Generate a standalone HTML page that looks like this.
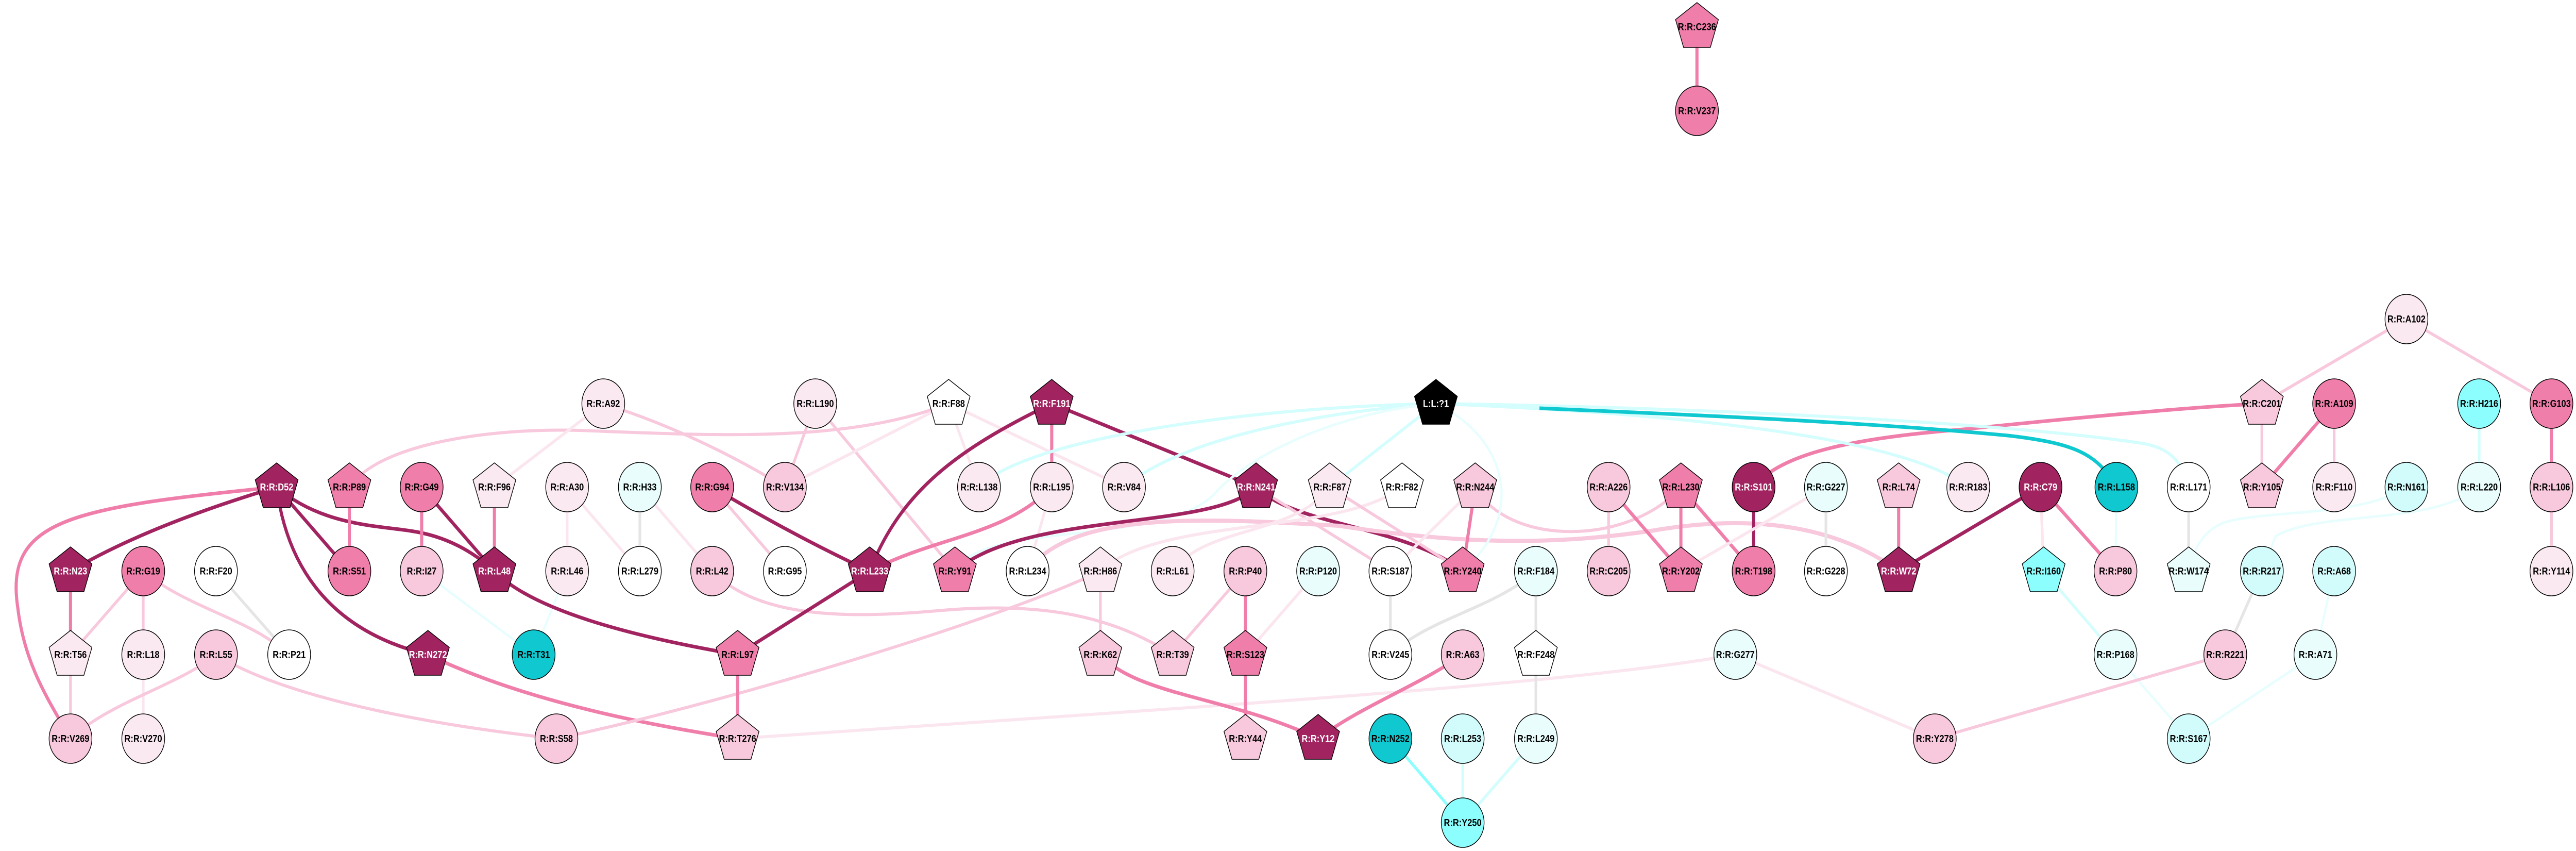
<!DOCTYPE html>
<html><head><meta charset="utf-8"><style>
html,body{margin:0;padding:0;background:#fff;overflow:hidden;width:100%;height:100%}
svg{display:block;width:100vw;height:100vh}
text{font-family:"Liberation Sans",Arial,sans-serif;font-weight:bold;font-size:19px;text-anchor:middle;dominant-baseline:central;fill:#000}
.w text{fill:#fff}
circle,polygon{stroke:#000;stroke-width:1.5}
path{fill:none;stroke-linecap:butt}
.d{stroke:#a12461;stroke-width:7}
.m{stroke:#f07eaa;stroke-width:7}
.l{stroke:#f8c8dc;stroke-width:6}
.v{stroke:#fbe6ef;stroke-width:6}
.g{stroke:#e5e5e5;stroke-width:6}
.c{stroke:#d4fdfd;stroke-width:6}
.e{stroke:#e8fefe;stroke-width:5}
.t{stroke:#10c8d0;stroke-width:7}
.k{stroke:#8cfefe;stroke-width:6}
</style></head><body>
<svg viewBox="0 0 5773 1651" preserveAspectRatio="none" xmlns="http://www.w3.org/2000/svg">
<defs><polygon id="p" points="0,-47 48,-14 30,40 -30,40 -48,-14"/></defs>
<path class="m" d="M620,945 C150,985 10,1010 40,1180 C55,1290 110,1360 158,1433"/>
<path class="d" d="M620,945 Q330,1020 158,1108"/>
<path class="d" d="M620,945 L783,1108"/>
<path class="d" d="M620,945 C720,1020 850,1020 920,1030 C1000,1040 1060,1070 1108,1108"/>
<path class="d" d="M620,945 C640,1080 720,1220 959,1270"/>
<path class="m" d="M783,945 L783,1108"/>
<path class="l" d="M783,945 C850,860 1100,830 1300,835 C1600,845 1900,860 2126,783"/>
<path class="v" d="M1352,783 L1108,945"/>
<path class="l" d="M1352,783 Q1560,840 1759,945"/>
<path class="m" d="M945,945 L945,1108"/>
<path class="d" d="M945,945 L1108,1108"/>
<path class="m" d="M1108,945 L1108,1108"/>
<path class="v" d="M1271,945 L1271,1108"/>
<path class="v" d="M1271,945 L1434,1108"/>
<path class="g" d="M1434,945 L1434,1108"/>
<path class="v" d="M1434,945 L1596,1108"/>
<path class="l" d="M321,1108 L158,1270"/>
<path class="l" d="M321,1108 L321,1270"/>
<path class="l" d="M321,1108 C420,1180 560,1200 648,1270"/>
<path class="g" d="M484,1108 L648,1270"/>
<path class="m" d="M158,1108 L158,1270"/>
<path class="l" d="M158,1270 L158,1433"/>
<path class="v" d="M321,1270 L321,1433"/>
<path class="l" d="M484,1270 C400,1330 250,1360 158,1433"/>
<path class="l" d="M484,1270 C650,1360 1000,1410 1247,1433"/>
<path class="e" d="M945,1108 L1196,1270"/>
<path class="e" d="M1271,1108 L1196,1270"/>
<path class="d" d="M1108,1108 C1200,1190 1450,1240 1653,1270"/>
<path class="m" d="M959,1270 C1150,1350 1400,1400 1653,1433"/>
<path class="l" d="M1247,1433 C1600,1370 2250,1200 2466,1108"/>
<path class="l" d="M1596,1108 C1700,1200 1900,1200 2100,1185 C2350,1165 2500,1200 2628,1270"/>
<path class="d" d="M1596,945 Q1780,1040 1949,1108"/>
<path class="l" d="M1596,945 L1759,1108"/>
<path class="l" d="M1827,783 L1759,945"/>
<path class="l" d="M1827,783 L2140,1108"/>
<path class="v" d="M2126,783 L1759,945"/>
<path class="v" d="M2126,783 L2194,945"/>
<path class="v" d="M2126,783 L2519,945"/>
<path class="d" d="M2357,783 C2150,870 2020,950 1949,1108"/>
<path class="m" d="M2357,783 L2357,945"/>
<path class="d" d="M2357,783 L2815,945"/>
<path class="m" d="M2357,945 C2250,1040 2100,1040 1949,1108"/>
<path class="v" d="M2357,945 L2303,1108"/>
<path class="c" d="M2194,945 C2300,850 2800,790 3218,783"/>
<path class="c" d="M2519,945 C2650,850 2950,800 3218,783"/>
<path class="e" d="M2140,1108 C2200,1010 2600,1060 2720,960 C2800,880 3000,800 3218,783"/>
<path class="c" d="M2980,945 L3218,783"/>
<path class="d" d="M2815,945 C2720,1030 2300,990 2140,1108"/>
<path class="d" d="M2815,945 C2900,1020 3150,1020 3278,1108"/>
<path class="l" d="M2815,945 L3116,1108"/>
<path class="l" style="stroke-width:8" d="M2303,1108 C2400,990 2700,1005 3000,1020 C3300,1060 3500,1055 3700,1030 C3900,1000 4100,1010 4255,1108"/>
<path class="v" d="M2466,1108 C2600,1000 3000,1040 3142,945"/>
<path class="v" d="M2628,1108 C2700,1020 2900,1040 2980,945"/>
<path class="l" d="M2980,945 L3278,1108"/>
<path class="l" d="M3306,945 C3380,1060 3650,1060 3767,945"/>
<path class="m" d="M3306,945 L3278,1108"/>
<path class="v" d="M3306,945 L3116,1108"/>
<path class="e" d="M3218,783 C3380,850 3420,1000 3278,1108"/>
<path class="l" d="M3605,945 L3605,1108"/>
<path class="m" d="M3605,945 L3767,1108"/>
<path class="m" d="M3767,945 L3767,1108"/>
<path class="m" d="M3767,945 L3930,1108"/>
<path class="d" d="M3930,945 L3930,1108"/>
<path class="g" d="M4092,945 L4092,1108"/>
<path class="v" d="M4092,945 L3767,1108"/>
<path class="m" d="M4255,945 L4255,1108"/>
<path class="m" d="M3930,945 C3990,880 4150,850 4400,833 C4600,815 4900,790 5069,783"/>
<path class="c" d="M3218,783 C3700,800 4250,840 4411,945"/>
<path class="c" d="M3218,783 C3800,790 4500,820 4800,860 C4870,870 4890,900 4905,945"/>
<path class="t" d="M3450,792 C3800,805 4200,820 4500,845 C4650,860 4700,880 4743,945"/>
<path class="d" d="M4573,945 L4255,1108"/>
<path class="v" d="M4573,945 L4580,1108"/>
<path class="m" d="M4573,945 L4741,1108"/>
<path class="e" d="M4743,945 L4741,1108"/>
<path class="g" d="M4905,945 L4905,1108"/>
<path class="e" d="M5393,945 C5300,1000 5100,990 5000,1010 C4950,1020 4920,1050 4905,1108"/>
<path class="e" d="M5556,945 C5450,1020 5200,990 5100,1040 L5069,1108"/>
<path class="g" d="M5069,1108 L4987,1270"/>
<path class="e" d="M5231,1108 L5189,1270"/>
<path class="c" d="M4580,1108 L4741,1270"/>
<path class="e" d="M4741,1270 L4905,1433"/>
<path class="e" d="M5189,1270 L4905,1433"/>
<path class="l" d="M4987,1270 L4336,1433"/>
<path class="v" d="M3889,1270 L4336,1433"/>
<path class="v" d="M3889,1270 C3500,1330 2700,1370 1653,1433"/>
<path class="m" d="M2466,1270 C2550,1350 2750,1350 2954,1433"/>
<path class="m" d="M3278,1270 C3180,1330 3050,1370 2954,1433"/>
<path class="m" d="M2791,1108 L2791,1270"/>
<path class="l" d="M2791,1108 L2628,1270"/>
<path class="m" d="M2791,1270 L2791,1433"/>
<path class="v" d="M2954,1108 L2791,1270"/>
<path class="l" d="M2466,1108 L2466,1270"/>
<path class="g" d="M3116,1108 L3116,1270"/>
<path class="g" d="M3442,1108 C3350,1180 3200,1200 3116,1270"/>
<path class="g" d="M3442,1108 L3442,1270"/>
<path class="g" d="M3442,1270 L3442,1433"/>
<path class="k" d="M3116,1433 L3278,1596"/>
<path class="c" d="M3278,1433 L3278,1596"/>
<path class="c" d="M3442,1433 L3278,1596"/>
<path class="m" d="M3803,52 L3803,215"/>
<path class="d" d="M1949,1108 L1653,1270"/>
<path class="m" d="M1653,1270 L1653,1433"/>
<path class="l" d="M5393,619 L5069,783"/>
<path class="l" d="M5393,619 L5718,783"/>
<path class="l" d="M5069,783 L5069,945"/>
<path class="m" d="M5231,783 L5069,945"/>
<path class="l" d="M5231,783 L5231,945"/>
<path class="c" d="M5556,783 L5556,945"/>
<path class="m" d="M5718,783 L5718,945"/>
<path class="l" d="M5718,945 L5718,1108"/>
<g><g transform="translate(3803,52)" fill="#f07eaa"><use href="#p"/><text>R:R:C236</text></g>
<g transform="translate(3803,215)"><circle r="48" fill="#f07eaa"/><text>R:R:V237</text></g>
<g transform="translate(5393,619)"><circle r="48" fill="#fbe9f1"/><text>R:R:A102</text></g>
<g transform="translate(1352,783)"><circle r="48" fill="#fbe9f1"/><text>R:R:A92</text></g>
<g transform="translate(1827,783)"><circle r="48" fill="#fbe9f1"/><text>R:R:L190</text></g>
<g transform="translate(2126,783)" fill="#fff"><use href="#p"/><text>R:R:F88</text></g>
<g class="w" transform="translate(2357,783)" fill="#a12461"><use href="#p"/><text>R:R:F191</text></g>
<g class="w" transform="translate(3218,783)" fill="#000"><use href="#p"/><text>L:L:?1</text></g>
<g transform="translate(5069,783)" fill="#f8c8dc"><use href="#p"/><text>R:R:C201</text></g>
<g transform="translate(5231,783)"><circle r="48" fill="#f07eaa"/><text>R:R:A109</text></g>
<g transform="translate(5556,783)"><circle r="48" fill="#8cfefe"/><text>R:R:H216</text></g>
<g transform="translate(5718,783)"><circle r="48" fill="#f07eaa"/><text>R:R:G103</text></g>
<g class="w" transform="translate(620,945)" fill="#a12461"><use href="#p"/><text>R:R:D52</text></g>
<g transform="translate(783,945)" fill="#f07eaa"><use href="#p"/><text>R:R:P89</text></g>
<g transform="translate(945,945)"><circle r="48" fill="#f07eaa"/><text>R:R:G49</text></g>
<g transform="translate(1108,945)" fill="#fbe9f1"><use href="#p"/><text>R:R:F96</text></g>
<g transform="translate(1271,945)"><circle r="48" fill="#fbe9f1"/><text>R:R:A30</text></g>
<g transform="translate(1434,945)"><circle r="48" fill="#e8fdfc"/><text>R:R:H33</text></g>
<g transform="translate(1596,945)"><circle r="48" fill="#f07eaa"/><text>R:R:G94</text></g>
<g transform="translate(1759,945)"><circle r="48" fill="#f8c8dc"/><text>R:R:V134</text></g>
<g transform="translate(2194,945)"><circle r="48" fill="#fbe9f1"/><text>R:R:L138</text></g>
<g transform="translate(2357,945)"><circle r="48" fill="#fbe9f1"/><text>R:R:L195</text></g>
<g transform="translate(2519,945)"><circle r="48" fill="#fbe9f1"/><text>R:R:V84</text></g>
<g class="w" transform="translate(2815,945)" fill="#a12461"><use href="#p"/><text>R:R:N241</text></g>
<g transform="translate(2980,945)" fill="#fbe9f1"><use href="#p"/><text>R:R:F87</text></g>
<g transform="translate(3142,945)" fill="#fff"><use href="#p"/><text>R:R:F82</text></g>
<g transform="translate(3306,945)" fill="#f8c8dc"><use href="#p"/><text>R:R:N244</text></g>
<g transform="translate(3605,945)"><circle r="48" fill="#f8c8dc"/><text>R:R:A226</text></g>
<g transform="translate(3767,945)" fill="#f07eaa"><use href="#p"/><text>R:R:L230</text></g>
<g class="w" transform="translate(3930,945)"><circle r="48" fill="#a12461"/><text>R:R:S101</text></g>
<g transform="translate(4092,945)"><circle r="48" fill="#e8fdfc"/><text>R:R:G227</text></g>
<g transform="translate(4255,945)" fill="#f8c8dc"><use href="#p"/><text>R:R:L74</text></g>
<g transform="translate(4411,945)"><circle r="48" fill="#fbe9f1"/><text>R:R:R183</text></g>
<g class="w" transform="translate(4573,945)"><circle r="48" fill="#a12461"/><text>R:R:C79</text></g>
<g transform="translate(4743,945)"><circle r="48" fill="#10c8d0"/><text>R:R:L158</text></g>
<g transform="translate(4905,945)"><circle r="48" fill="#fff"/><text>R:R:L171</text></g>
<g transform="translate(5069,945)" fill="#f8c8dc"><use href="#p"/><text>R:R:Y105</text></g>
<g transform="translate(5231,945)"><circle r="48" fill="#fbe9f1"/><text>R:R:F110</text></g>
<g transform="translate(5393,945)"><circle r="48" fill="#d2fcfc"/><text>R:R:N161</text></g>
<g transform="translate(5556,945)"><circle r="48" fill="#e8fdfc"/><text>R:R:L220</text></g>
<g transform="translate(5718,945)"><circle r="48" fill="#f8c8dc"/><text>R:R:L106</text></g>
<g class="w" transform="translate(158,1108)" fill="#a12461"><use href="#p"/><text>R:R:N23</text></g>
<g transform="translate(321,1108)"><circle r="48" fill="#f07eaa"/><text>R:R:G19</text></g>
<g transform="translate(484,1108)"><circle r="48" fill="#fff"/><text>R:R:F20</text></g>
<g transform="translate(783,1108)"><circle r="48" fill="#f07eaa"/><text>R:R:S51</text></g>
<g transform="translate(945,1108)"><circle r="48" fill="#f8c8dc"/><text>R:R:I27</text></g>
<g class="w" transform="translate(1108,1108)" fill="#a12461"><use href="#p"/><text>R:R:L48</text></g>
<g transform="translate(1271,1108)"><circle r="48" fill="#fbe9f1"/><text>R:R:L46</text></g>
<g transform="translate(1434,1108)"><circle r="48" fill="#fff"/><text>R:R:L279</text></g>
<g transform="translate(1596,1108)"><circle r="48" fill="#f8c8dc"/><text>R:R:L42</text></g>
<g transform="translate(1759,1108)"><circle r="48" fill="#fff"/><text>R:R:G95</text></g>
<g class="w" transform="translate(1949,1108)" fill="#a12461"><use href="#p"/><text>R:R:L233</text></g>
<g transform="translate(2140,1108)" fill="#f07eaa"><use href="#p"/><text>R:R:Y91</text></g>
<g transform="translate(2303,1108)"><circle r="48" fill="#fff"/><text>R:R:L234</text></g>
<g transform="translate(2466,1108)" fill="#fbe9f1"><use href="#p"/><text>R:R:H86</text></g>
<g transform="translate(2628,1108)"><circle r="48" fill="#fbe9f1"/><text>R:R:L61</text></g>
<g transform="translate(2791,1108)"><circle r="48" fill="#f8c8dc"/><text>R:R:P40</text></g>
<g transform="translate(2954,1108)"><circle r="48" fill="#e8fdfc"/><text>R:R:P120</text></g>
<g transform="translate(3116,1108)"><circle r="48" fill="#fff"/><text>R:R:S187</text></g>
<g transform="translate(3278,1108)" fill="#f07eaa"><use href="#p"/><text>R:R:Y240</text></g>
<g transform="translate(3442,1108)"><circle r="48" fill="#e8fdfc"/><text>R:R:F184</text></g>
<g transform="translate(3605,1108)"><circle r="48" fill="#f8c8dc"/><text>R:R:C205</text></g>
<g transform="translate(3767,1108)" fill="#f07eaa"><use href="#p"/><text>R:R:Y202</text></g>
<g transform="translate(3930,1108)"><circle r="48" fill="#f07eaa"/><text>R:R:T198</text></g>
<g transform="translate(4092,1108)"><circle r="48" fill="#fff"/><text>R:R:G228</text></g>
<g class="w" transform="translate(4255,1108)" fill="#a12461"><use href="#p"/><text>R:R:W72</text></g>
<g transform="translate(4580,1108)" fill="#8cfefe"><use href="#p"/><text>R:R:I160</text></g>
<g transform="translate(4741,1108)"><circle r="48" fill="#f8c8dc"/><text>R:R:P80</text></g>
<g transform="translate(4905,1108)" fill="#e8fdfc"><use href="#p"/><text>R:R:W174</text></g>
<g transform="translate(5069,1108)"><circle r="48" fill="#d2fcfc"/><text>R:R:R217</text></g>
<g transform="translate(5231,1108)"><circle r="48" fill="#d2fcfc"/><text>R:R:A68</text></g>
<g transform="translate(5718,1108)"><circle r="48" fill="#fbe9f1"/><text>R:R:Y114</text></g>
<g transform="translate(158,1270)" fill="#fbe9f1"><use href="#p"/><text>R:R:T56</text></g>
<g transform="translate(321,1270)"><circle r="48" fill="#fbe9f1"/><text>R:R:L18</text></g>
<g transform="translate(484,1270)"><circle r="48" fill="#f8c8dc"/><text>R:R:L55</text></g>
<g transform="translate(648,1270)"><circle r="48" fill="#fff"/><text>R:R:P21</text></g>
<g class="w" transform="translate(959,1270)" fill="#a12461"><use href="#p"/><text>R:R:N272</text></g>
<g transform="translate(1196,1270)"><circle r="48" fill="#10c8d0"/><text>R:R:T31</text></g>
<g transform="translate(1653,1270)" fill="#f07eaa"><use href="#p"/><text>R:R:L97</text></g>
<g transform="translate(2466,1270)" fill="#f8c8dc"><use href="#p"/><text>R:R:K62</text></g>
<g transform="translate(2628,1270)" fill="#f8c8dc"><use href="#p"/><text>R:R:T39</text></g>
<g transform="translate(2791,1270)" fill="#f07eaa"><use href="#p"/><text>R:R:S123</text></g>
<g transform="translate(3116,1270)"><circle r="48" fill="#fff"/><text>R:R:V245</text></g>
<g transform="translate(3278,1270)"><circle r="48" fill="#f8c8dc"/><text>R:R:A63</text></g>
<g transform="translate(3442,1270)" fill="#fff"><use href="#p"/><text>R:R:F248</text></g>
<g transform="translate(3889,1270)"><circle r="48" fill="#e8fdfc"/><text>R:R:G277</text></g>
<g transform="translate(4741,1270)"><circle r="48" fill="#e8fdfc"/><text>R:R:P168</text></g>
<g transform="translate(4987,1270)"><circle r="48" fill="#f8c8dc"/><text>R:R:R221</text></g>
<g transform="translate(5189,1270)"><circle r="48" fill="#e8fdfc"/><text>R:R:A71</text></g>
<g transform="translate(158,1433)"><circle r="48" fill="#f8c8dc"/><text>R:R:V269</text></g>
<g transform="translate(321,1433)"><circle r="48" fill="#fbe9f1"/><text>R:R:V270</text></g>
<g transform="translate(1247,1433)"><circle r="48" fill="#f8c8dc"/><text>R:R:S58</text></g>
<g transform="translate(1653,1433)" fill="#f8c8dc"><use href="#p"/><text>R:R:T276</text></g>
<g transform="translate(2791,1433)" fill="#f8c8dc"><use href="#p"/><text>R:R:Y44</text></g>
<g class="w" transform="translate(2954,1433)" fill="#a12461"><use href="#p"/><text>R:R:Y12</text></g>
<g transform="translate(3116,1433)"><circle r="48" fill="#10c8d0"/><text>R:R:N252</text></g>
<g transform="translate(3278,1433)"><circle r="48" fill="#d2fcfc"/><text>R:R:L253</text></g>
<g transform="translate(3442,1433)"><circle r="48" fill="#e8fdfc"/><text>R:R:L249</text></g>
<g transform="translate(4336,1433)"><circle r="48" fill="#f8c8dc"/><text>R:R:Y278</text></g>
<g transform="translate(4905,1433)"><circle r="48" fill="#d2fcfc"/><text>R:R:S167</text></g>
<g transform="translate(3278,1596)"><circle r="48" fill="#8cfefe"/><text>R:R:Y250</text></g>
</g>
</svg>
</body></html>
